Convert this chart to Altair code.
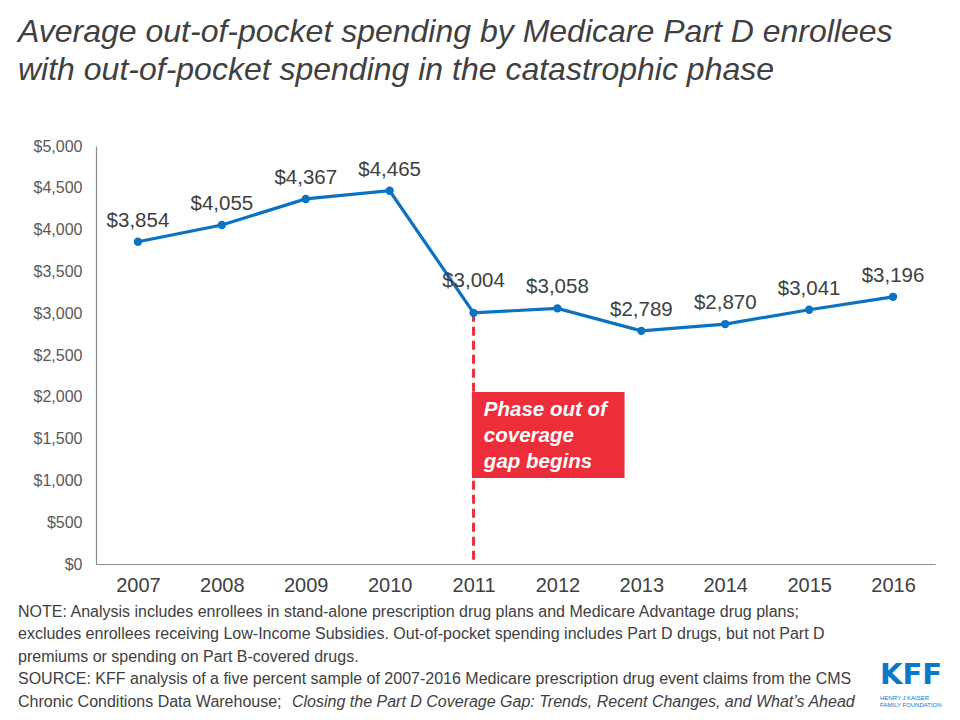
import altair as alt
import pandas as pd

years = [2007, 2008, 2009, 2010, 2011, 2012, 2013, 2014, 2015, 2016]
spending = [3854, 4055, 4367, 4465, 3004, 3058, 2789, 2870, 3041, 3196]
y_ticks = [0, 500, 1000, 1500, 2000, 2500, 3000, 3500, 4000, 4500, 5000]

title_lines = [
    "Average out-of-pocket spending by Medicare Part D enrollees",
    "with out-of-pocket spending in the catastrophic phase",
]
annotation_year = 2011
box_left = 2010.98
box_right = 2012.8
box_top = 2057
box_bottom = 1029
annotation_text = "Phase out of\ncoverage\ngap begins"

note_lines = [
    "NOTE: Analysis includes enrollees in stand-alone prescription drug plans and Medicare Advantage drug plans;",
    "excludes enrollees receiving Low-Income  Subsidies. Out-of-pocket spending includes Part D drugs, but not Part D",
    "premiums or spending on Part B-covered drugs.",
    "SOURCE: KFF analysis of a five percent sample of 2007-2016 Medicare prescription drug event claims from the CMS",
]
last_line_plain = "Chronic Conditions Data Warehouse; "
last_line_italic = "Closing the Part D Coverage Gap: Trends, Recent Changes, and What\u2019s Ahead"

BLUE = "#0A72C2"
RED = "#EE2D3A"
TEXT = "#404040"
FONT = "Liberation Sans"

df = pd.DataFrame({"year": years, "spending": spending})
df["label"] = ["$" + f"{v:,}" for v in spending]

W, H = 839, 418
x_scale = alt.Scale(domain=[2006.5, 2016.5], nice=False, zero=False)
x_enc = alt.X("year:Q", scale=x_scale,
              axis=alt.Axis(title=None, values=years, format="d", ticks=False, grid=False,
                            labelFontSize=20, labelColor=TEXT, labelFont=FONT, labelPadding=11,
                            domainColor="#8C8C8C", domainWidth=1.2))
y_enc = alt.Y("spending:Q", scale=alt.Scale(domain=[0, 5000], nice=False),
              axis=alt.Axis(title=None, values=y_ticks, format="$,.0f", ticks=False,
                            grid=False, labelFontSize=16, labelColor="#595959",
                            labelFont=FONT, labelPadding=14,
                            domainColor="#8C8C8C", domainWidth=1.2))

base = alt.Chart(df)

line = base.mark_line(color=BLUE, strokeWidth=3.2).encode(x=x_enc, y=y_enc)
points = base.mark_circle(color=BLUE, size=70, opacity=1).encode(x=x_enc, y=y_enc)
labels = base.transform_filter(alt.datum.year != annotation_year).mark_text(
    dy=-15, fontSize=20.5, color=TEXT, font=FONT, baseline="alphabetic").encode(
    x=alt.X("year:Q"), y=alt.Y("spending:Q"), text="label:N")
label_ann = base.transform_filter(alt.datum.year == annotation_year).mark_text(
    dy=-26, fontSize=20.5, color=TEXT, font=FONT, baseline="alphabetic").encode(
    x=alt.X("year:Q"), y=alt.Y("spending:Q"), text="label:N")

ann_df = pd.DataFrame({"year": [annotation_year],
                       "spending": [spending[years.index(annotation_year)]],
                       "zero": [0],
                       "left": [box_left], "right": [box_right],
                       "top": [box_top], "bottom": [box_bottom],
                       "text": [annotation_text]})
ann = alt.Chart(ann_df)
dash = ann.mark_rule(color=RED, strokeWidth=3, strokeDash=[9, 5]).encode(
    x=alt.X("year:Q"), y=alt.Y("spending:Q"), y2="zero:Q")
box = ann.mark_rect(color=RED).encode(
    x=alt.X("left:Q"), x2="right:Q", y=alt.Y("top:Q"), y2="bottom:Q")
box_text = ann.mark_text(align="left", baseline="alphabetic", dx=12, dy=24,
                         fontSize=20.5, fontStyle="italic", fontWeight="bold",
                         color="white", font=FONT, lineBreak="\n", lineHeight=26).encode(
    x=alt.X("left:Q"), y=alt.Y("top:Q"), text="text:N")

# Title, footnotes, logo (pixel positions relative to plot origin at abs (96,146))
def txt(s, x, y, size, color=TEXT, style="normal", weight="normal", font=FONT, align="left"):
    return alt.Chart(pd.DataFrame({"t": [s]})).mark_text(
        align=align, baseline="alphabetic", fontSize=size, fontStyle=style,
        fontWeight=weight, color=color, font=font).encode(
        x=alt.value(x), y=alt.value(y), text="t:N")

OX, OY = 96, 146
extra = []
extra.append(txt(title_lines[0], 18 - OX, 42 - OY, 32, style="italic"))
extra.append(txt(title_lines[1], 18 - OX, 80 - OY, 32, style="italic"))
note_base = [617, 639, 662, 684]
for s, yb in zip(note_lines, note_base):
    extra.append(txt(s, 18 - OX, yb - OY, 16))
extra.append(txt(last_line_plain, 18 - OX, 707 - OY, 16))
extra.append(txt(last_line_italic, 292 - OX, 707 - OY, 16, style="italic"))
LOGO = "#0A78C8"
extra.append(txt("KFF", 911 - OX, 684 - OY, 29, color=LOGO, weight="bold", font="DejaVu Sans", align="center"))
extra.append(txt("HENRY J KAISER", 880 - OX, 700 - OY, 6, color=LOGO, font=FONT))
extra.append(txt("FAMILY FOUNDATION", 880 - OX, 707 - OY, 6, color=LOGO, font=FONT))

chart = alt.layer(dash, line, points, labels, label_ann, box, box_text, *extra).properties(
    width=W, height=H,
    background="white",
    autosize=alt.AutoSizeParams(type="none"),
    padding={"left": 88, "top": 138, "right": 15, "bottom": 150},
).configure_view(strokeWidth=0, stroke=None)

chart.save("out.html", embed_options={"renderer": "svg", "actions": False})
